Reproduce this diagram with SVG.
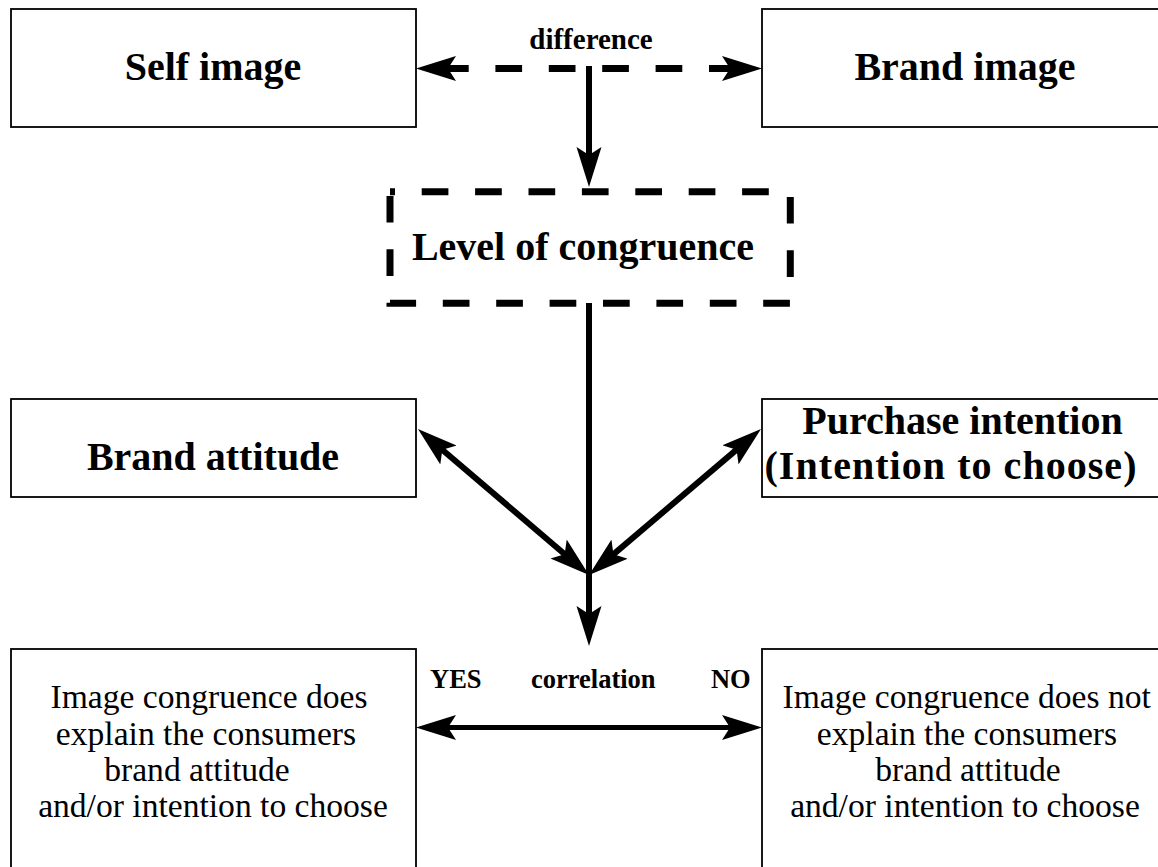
<svg xmlns="http://www.w3.org/2000/svg" width="1158" height="867" viewBox="0 0 1158 867">
<style>
.box{fill:#fff;stroke:#000;stroke-width:1.8}
.dbox{fill:#fff;stroke:#000;stroke-width:7;stroke-dasharray:26.7 26.7;stroke-dashoffset:21.7}
.big{font-family:"Liberation Serif","Times New Roman",serif;font-weight:bold;font-size:40px;text-anchor:middle;fill:#000}
.small{font-family:"Liberation Serif","Times New Roman",serif;font-weight:bold;font-size:26.5px;text-anchor:middle;fill:#000}
.body{font-family:"Liberation Serif","Times New Roman",serif;font-size:33.6px;text-anchor:middle;fill:#000}
.arr{fill:none;stroke:#000;stroke-width:6;marker-end:url(#ah)}
.arr2{fill:none;stroke:#000;stroke-width:6;marker-start:url(#ah);marker-end:url(#ah)}
</style>
<defs>
<marker id="ah" viewBox="0 -13 40 26" refX="10" refY="0" markerWidth="40" markerHeight="26" markerUnits="userSpaceOnUse" orient="auto-start-reverse">
<path d="M40,0 L0,-12.5 L8,0 L0,12.5 Z" fill="#000"/>
</marker>
</defs>
<rect width="1158" height="867" fill="#fff"/>

<g id="self-image">
<rect class="box" x="11" y="9" width="405" height="118"/>
<text class="big" x="213" y="80">Self image</text>
</g>
<g id="brand-image">
<rect class="box" x="762" y="9" width="406" height="118"/>
<text class="big" x="965" y="80">Brand image</text>
</g>
<g id="level-of-congruence">
<rect class="dbox" x="390" y="191.7" width="400.3" height="111.6"/>
<text class="big" x="583" y="260">Level of congruence</text>
</g>
<g id="brand-attitude">
<rect class="box" x="11" y="399" width="405" height="98"/>
<text class="big" x="213" y="470">Brand attitude</text>
</g>
<g id="purchase-intention">
<rect class="box" x="762" y="399" width="406" height="98"/>
<text class="big" x="962.5" y="434">Purchase intention</text>
<text class="big" x="950.5" y="479" textLength="372" lengthAdjust="spacing">(Intention to choose)</text>
</g>
<g id="yes-box">
<rect class="box" x="11" y="649" width="405" height="240"/>
<text class="body" x="209" y="708">Image congruence does</text>
<text class="body" x="206" y="745">explain the consumers</text>
<text class="body" x="197" y="781">brand attitude</text>
<text class="body" x="213" y="817">and/or intention to choose</text>
</g>
<g id="no-box">
<rect class="box" x="762" y="649" width="406" height="240"/>
<text class="body" x="966.7" y="708">Image congruence does not</text>
<text class="body" x="967" y="745">explain the consumers</text>
<text class="body" x="968" y="781">brand attitude</text>
<text class="body" x="965" y="817">and/or intention to choose</text>
</g>

<g id="connectors">
<line class="arr2" x1="446" y1="68.5" x2="732" y2="68.5" style="stroke-width:7;stroke-dasharray:26.7 26.7;stroke-dashoffset:4"/>
<line class="arr" x1="589" y1="66" x2="589" y2="157"/>
<line class="arr" x1="589" y1="303" x2="589" y2="616"/>
<line class="arr2" x1="566.2" y1="555.5" x2="440.8" y2="448.5"/>
<line class="arr2" x1="611.9" y1="555.6" x2="738.1" y2="448.4"/>
<line class="arr2" x1="446" y1="727.5" x2="732" y2="727.5" style="stroke-width:5"/>
</g>

<g id="labels">
<text class="small" x="591" y="49" style="font-size:29px">difference</text>
<text class="small" x="455.8" y="688">YES</text>
<text class="small" x="593.3" y="688">correlation</text>
<text class="small" x="730.8" y="688">NO</text>
</g>
</svg>
